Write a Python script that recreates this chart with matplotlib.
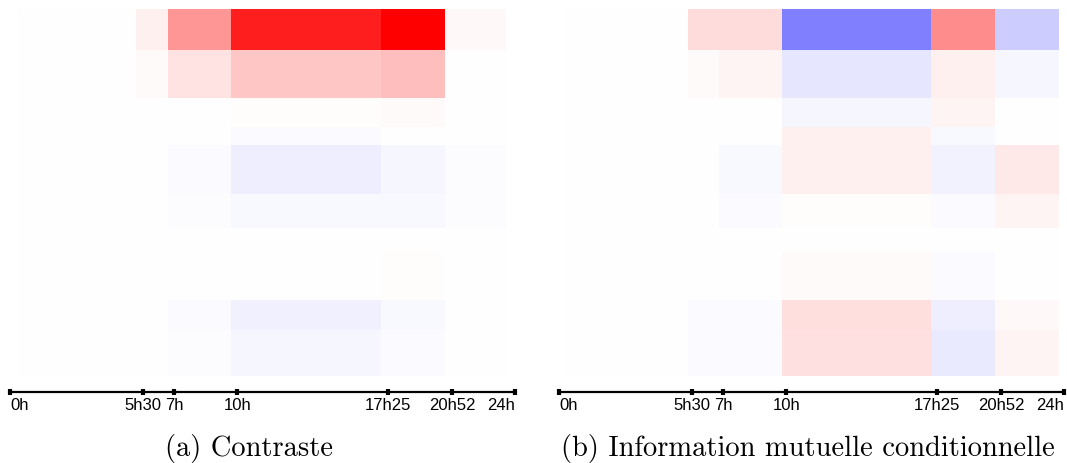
import numpy as np
import matplotlib
matplotlib.use("Agg")
from matplotlib import pyplot as plt

# graduations de l'axe du temps (position sur l'axe, libelle)
pos_ticks = [0, 6.32, 7.79, 10.8, 17.95, 21.02, 24]
lab_ticks = ["0h", "5h30", "7h", "10h", "17h25", "20h52", "24h"]

# bords des colonnes de la carte (meme unite que l'axe)
bords_a = [0.38, 5.99, 7.51, 10.5, 17.63, 20.67, 23.57]
bords_b = [0.38, 6.13, 7.6, 10.6, 17.68, 20.72, 23.76]

# hauteur de chaque ligne (de haut en bas)
haut_lignes = [41, 48, 29, 18, 49, 34, 23, 49, 30, 46]

# (a) contraste
contraste = [
    [0.003, 0.06, 0.41, 0.88, 1.0, 0.025],
    [0.003, 0.02, 0.11, 0.22, 0.25, 0.003],
    [0.003, 0.003, 0.003, 0.01, 0.02, 0.003],
    [0.003, 0.003, 0.0, -0.02, 0.0, 0.0],
    [0.003, 0.0, -0.02, -0.07, -0.035, -0.015],
    [0.003, 0.0, -0.01, -0.025, -0.025, -0.01],
    [0.003, 0.0, 0.0, 0.0, 0.0, 0.0],
    [0.003, 0.0, 0.0, 0.0, 0.008, 0.0],
    [0.003, 0.0, -0.02, -0.06, -0.025, -0.005],
    [0.003, 0.0, -0.01, -0.035, -0.02, -0.005],
]

# (b) information mutuelle conditionnelle
imc = [
    [0.003, 0.14, 0.14, -0.5, 0.45, -0.2],
    [0.003, 0.02, 0.04, -0.1, 0.06, -0.035],
    [0.003, 0.0, 0.0, -0.035, 0.04, 0.0],
    [0.003, 0.0, 0.0, 0.06, -0.025, 0.0],
    [0.003, 0.005, -0.025, 0.06, -0.05, 0.09],
    [0.003, 0.005, -0.02, 0.015, -0.02, 0.04],
    [0.003, 0.0, 0.0, 0.005, 0.0, 0.0],
    [0.003, 0.0, 0.0, 0.02, -0.02, 0.0],
    [0.003, -0.02, -0.02, 0.13, -0.07, 0.03],
    [0.0, -0.02, -0.02, 0.12, -0.08, 0.04],
]

titres = ["(a) Contraste", "(b) Information mutuelle conditionnelle"]

W, H = 1067, 464
fig = plt.figure(figsize=(W / 100, H / 100), dpi=100)

y_bords = np.concatenate([[0], np.cumsum(haut_lignes)])

def panneau(x0, bords, valeurs, titre, xc):
    ax = fig.add_axes([x0 / W, 71 / H, 505 / W, 383 / H])
    ax.pcolormesh(bords, y_bords, np.array(valeurs), cmap="bwr", vmin=-1, vmax=1)
    ax.set_xlim(0, 24)
    ax.set_ylim(383, 0)
    for s in ["top", "left", "right"]:
        ax.spines[s].set_visible(False)
    ax.spines["bottom"].set_linewidth(1.6)
    ax.set_yticks([])
    ax.set_xticks(pos_ticks)
    ax.set_xticklabels(lab_ticks, family="Liberation Sans", fontsize=12)
    ax.tick_params(axis="x", direction="inout", length=5, width=3, pad=1)
    labs = ax.get_xticklabels()
    labs[0].set_ha("left")
    labs[-1].set_ha("right")
    fig.text(xc / W, 1 - 449 / H, titre, family="cmr10", fontsize=20.5,
             ha="center", va="center")
    return ax

panneau(10, bords_a, contraste, titres[0], 249)
panneau(559, bords_b, imc, titres[1], 808)

fig.savefig("out.png", dpi=100)
